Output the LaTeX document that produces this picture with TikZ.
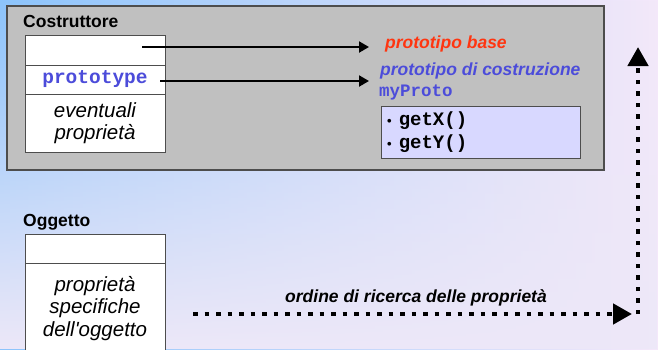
\documentclass[tikz,border=0pt]{standalone}
\usepackage{fontspec}
\setmainfont{Liberation Sans}
\newfontfamily\codefont{Liberation Mono}
\usetikzlibrary{arrows.meta,positioning,fadings}
\definecolor{bgBlue}{HTML}{8CC4FC}
\definecolor{bgLav}{HTML}{F4E8FA}
\definecolor{bgLow}{HTML}{EDE8F8}
\definecolor{panelGray}{HTML}{C0C0C0}
\definecolor{panelLine}{HTML}{4D4D4D}
\definecolor{baseRed}{HTML}{FF3510}
\definecolor{protoBlue}{HTML}{4C4CDA}
\definecolor{methodFill}{HTML}{D8D8FF}
\tikzset{
    cell/.style ={
        draw=panelLine,
        fill=white,
        line width=1pt,
        minimum width=140pt,
        inner sep=0pt,
        align=center,
        font=\fontsize{20.5}{22.5}\selectfont\itshape
    },
    title/.style ={
        anchor=west,
        inner sep=0pt,
        font=\fontsize{17.5}{19}\selectfont\bfseries
    },
    label/.style ={
        anchor=west,
        inner sep=0pt,
        font=\fontsize{17.5}{20}\selectfont\bfseries\itshape
    },
    code/.style ={
        font=\fontsize{19}{20}\selectfont\codefont\bfseries
    },
    link/.style ={
        line width=2pt,
        -{Triangle[length=10pt,width=11pt]}
    },
    search/.style ={
        line width=4.5pt,
        dash pattern=on 4.5pt off 7pt,
        -{Triangle[length=19pt,width=20pt]}
    }
}

\begin{document}
\begin{tikzpicture}[x=1pt,y=-1pt]
    \useasboundingbox (0,0) rectangle (658,349);
    % sfondo
    \shade[left color=bgBlue, right color=bgLav] (0,0) rectangle (658,349);
    \fill[bgLow, path fading=north] (0,0) rectangle (658,349);
    % costruttore
    \draw[draw=panelLine, fill=panelGray, line width=1.5pt] (7,6) rectangle (604,170);
    \node[title] (ctorLbl) at (23,21) {Costruttore};
    \node[cell, minimum height=30pt] (ctorTop) at (95,50) {};
    \node[cell, minimum height=29pt, code, text=protoBlue, font=\fontsize{19.5}{20}\selectfont\codefont\bfseries] (ctorProto) at (95,79.5) {prototype};
    \node[cell, minimum height=58pt] (ctorProps) at (95,123) {eventuali\\propriet\`a};
    \node[label, text=baseRed] (base) at (385,44) {prototipo base};
    \node[label, text=protoBlue] (cons) at (380,71) {prototipo di costruzione};
    \node[code, anchor=west, inner sep=0pt, text=protoBlue, font=\fontsize{17.5}{20}\selectfont\codefont\bfseries] (myProto) at (379,92) {myProto};
    \node[draw=panelLine, fill=methodFill, line width=1pt, minimum width=199pt, minimum height=52pt] (methods) at (480.5,132) {};
    \node[code, anchor=west, inner sep=0pt] (getX) at (387,121) {{\fontsize{13}{14}\selectfont\rmfamily•}\hspace{7pt}getX()};
    \node[code, anchor=west, inner sep=0pt] (getY) at (387,144) {{\fontsize{13}{14}\selectfont\rmfamily•}\hspace{7pt}getY()};
    \coordinate (baseFrom) at (142,47);
    \coordinate (baseTo) at (369,47);
    \coordinate (protoFrom) at (160,81);
    \coordinate (protoTo) at (369,81);
    \draw[link] (baseFrom) -- (baseTo);
    \draw[link] (protoFrom) -- (protoTo);
    % oggetto
    \node[title] (objLbl) at (23,222) {Oggetto};
    \node[cell, minimum height=29pt] (objTop) at (95,248.5) {};
    \node[cell, minimum height=91pt] (objProps) at (95,308.5) {propriet\`a\\specifiche\\dell\textquotesingle oggetto};
    % ordine di ricerca
    \coordinate (searchFrom) at (193,314);
    \coordinate (searchTurn) at (638,314);
    \coordinate (searchTo) at (638,47);
    \node[label, anchor=center] (searchLbl) at (416,298) {ordine di ricerca delle propriet\`a};
    \draw[search] (searchFrom) -- ([xshift=-6pt]searchTurn);
    \draw[search] (searchTurn) -- (searchTo);
\end{tikzpicture}
\end{document}
